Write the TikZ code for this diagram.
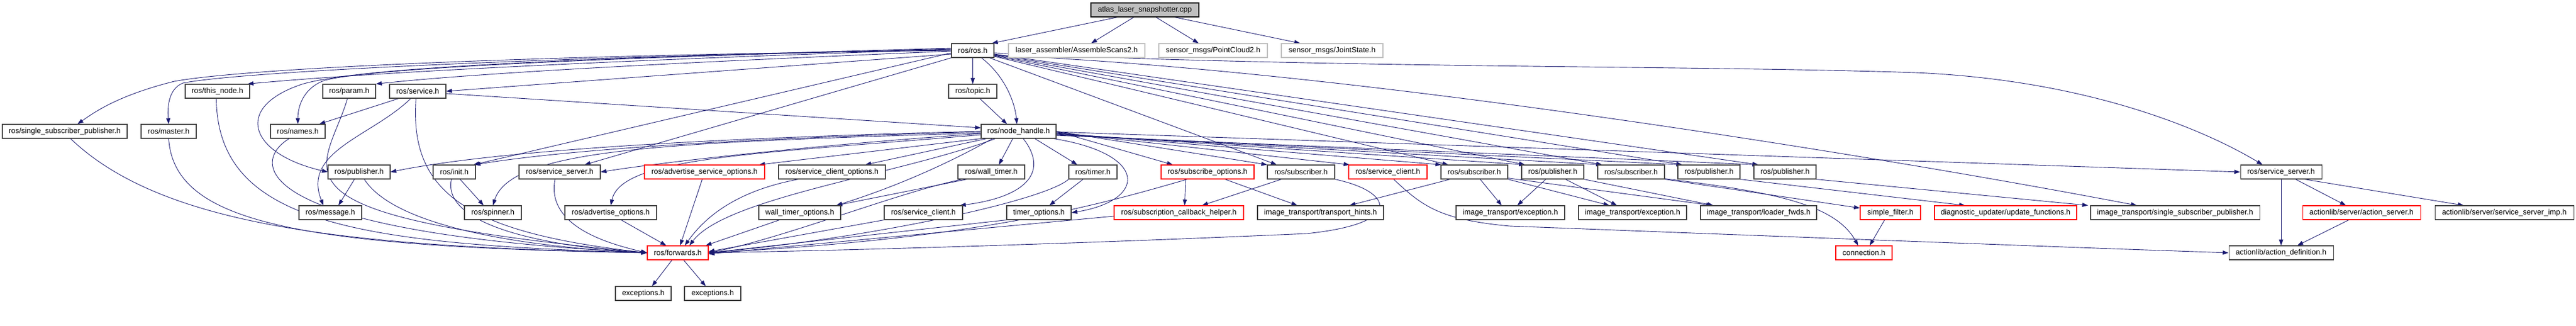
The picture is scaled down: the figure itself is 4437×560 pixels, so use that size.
\documentclass[tikz,border=0pt]{standalone}
\usepackage{fontspec}
\setmainfont{Liberation Sans}
\usetikzlibrary{arrows.meta,backgrounds}
\definecolor{edgeblue}{RGB}{25,25,112}
\definecolor{bdgray}{RGB}{64,64,64}
\definecolor{extgray}{RGB}{191,191,191}
\definecolor{bdred}{RGB}{255,0,0}
\tikzset{
  hbox/.style={draw=bdgray, fill=white, line width=1.1pt, inner sep=0pt, minimum height=24pt, font=\fontsize{13}{15}\selectfont},
  redhbox/.style={hbox, draw=bdred},
  exthbox/.style={hbox, draw=extgray},
  roothbox/.style={hbox, draw=black, fill=extgray},
  dep/.style={draw=edgeblue, line width=0.9pt, -{Triangle[length=10pt,width=7pt]}},
}
\begin{document}
\begin{tikzpicture}[x=1pt,y=1pt]
\useasboundingbox (0,0) rectangle (4437,-560);
% row 0
\node[roothbox, minimum width=186] (root) at (1972,-17) {atlas\_laser\_snapshotter.cpp};
% row 1
\node[hbox, minimum width=73] (ros) at (1675.5,-87) {ros/ros.h};
\node[exthbox, minimum width=235] (asm) at (1854.5,-87) {laser\_assembler/AssembleScans2.h};
\node[exthbox, minimum width=187] (pc2) at (2089.5,-87) {sensor\_msgs/PointCloud2.h};
\node[exthbox, minimum width=175] (js) at (2294.5,-87) {sensor\_msgs/JointState.h};
% row 2
\node[hbox, minimum width=111] (thisnode) at (374.5,-157) {ros/this\_node.h};
\node[hbox, minimum width=91] (param) at (601.5,-157) {ros/param.h};
\node[hbox, minimum width=97] (service) at (719.5,-157) {ros/service.h};
\node[hbox, minimum width=83] (topic) at (1675.5,-157) {ros/topic.h};
% row 3
\node[hbox, minimum width=215] (ssp) at (111.5,-226) {ros/single\_subscriber\_publisher.h};
\node[hbox, minimum width=95] (master) at (290.5,-226) {ros/master.h};
\node[hbox, minimum width=94] (names) at (513,-226) {ros/names.h};
\node[hbox, minimum width=129] (nh) at (1754.5,-226) {ros/node\_handle.h};
% row 4
\node[hbox, minimum width=107] (pubA) at (618.5,-296) {ros/publisher.h};
\node[hbox, minimum width=73] (init) at (782.5,-296) {ros/init.h};
\node[hbox, minimum width=140] (ssA) at (964,-296) {ros/service\_server.h};
\node[redhbox, minimum width=207] (aso) at (1213.5,-296) {ros/advertise\_service\_options.h};
\node[hbox, minimum width=184] (sco) at (1433,-296) {ros/service\_client\_options.h};
\node[hbox, minimum width=115] (wt) at (1707.5,-296) {ros/wall\_timer.h};
\node[hbox, minimum width=83] (timer) at (1882.5,-296) {ros/timer.h};
\node[redhbox, minimum width=160] (so) at (2080,-296) {ros/subscribe\_options.h};
\node[hbox, minimum width=116] (subA) at (2241,-296) {ros/subscriber.h};
\node[redhbox, minimum width=135] (scR) at (2390.5,-296) {ros/service\_client.h};
\node[hbox, minimum width=115] (subB) at (2539.5,-296) {ros/subscriber.h};
\node[hbox, minimum width=107] (pubB) at (2674.5,-296) {ros/publisher.h};
\node[hbox, minimum width=115] (subC) at (2809.5,-296) {ros/subscriber.h};
\node[hbox, minimum width=107] (pubC) at (2943.5,-296) {ros/publisher.h};
\node[hbox, minimum width=107] (pubD) at (3074.5,-296) {ros/publisher.h};
\node[hbox, minimum width=140] (ssB) at (3929,-296) {ros/service\_server.h};
% row 5
\node[hbox, minimum width=108] (msg) at (569,-366) {ros/message.h};
\node[hbox, minimum width=98] (spin) at (849,-366) {ros/spinner.h};
\node[hbox, minimum width=158] (ao) at (1052,-366) {ros/advertise\_options.h};
\node[hbox, minimum width=141] (wto) at (1377.5,-366) {wall\_timer\_options.h};
\node[hbox, minimum width=135] (sc) at (1590.5,-366) {ros/service\_client.h};
\node[hbox, minimum width=111] (to) at (1789.5,-366) {timer\_options.h};
\node[redhbox, minimum width=223] (sch) at (2030.5,-366) {ros/subscription\_callback\_helper.h};
\node[hbox, minimum width=217] (th) at (2274.5,-366) {image\_transport/transport\_hints.h};
\node[hbox, minimum width=187] (exA) at (2601.5,-366) {image\_transport/exception.h};
\node[hbox, minimum width=186] (exB) at (2812,-366) {image\_transport/exception.h};
\node[hbox, minimum width=200] (lf) at (3029,-366) {image\_transport/loader\_fwds.h};
\node[redhbox, minimum width=104] (sf) at (3256,-366) {simple\_filter.h};
\node[redhbox, minimum width=245] (du) at (3454.5,-366) {diagnostic\_updater/update\_functions.h};
\node[hbox, minimum width=291] (itssp) at (3746.5,-366) {image\_transport/single\_subscriber\_publisher.h};
\node[redhbox, minimum width=203] (as) at (4067.5,-366) {actionlib/server/action\_server.h};
\node[hbox, minimum width=239] (ssi) at (4313.5,-366) {actionlib/server/service\_server\_imp.h};
% row 6
\node[redhbox, minimum width=105] (fw) at (1167.5,-435) {ros/forwards.h};
\node[redhbox, minimum width=97] (conn) at (3210.5,-435) {connection.h};
\node[hbox, minimum width=180] (ad) at (3929,-435) {actionlib/action\_definition.h};
% row 7
\node[hbox, minimum width=96] (excA) at (1108,-505) {exceptions.h};
\node[hbox, minimum width=97] (excB) at (1227.5,-505) {exceptions.h};

\begin{pgfonlayer}{background}
% root
\draw[dep] ([xshift=-47]root.south) -- ([xshift=-4]ros.north east);
\draw[dep] ([xshift=-19]root.south) -- ([xshift=25]asm.north);
\draw[dep] ([xshift=19]root.south) -- ([xshift=-25]pc2.north);
\draw[dep] ([xshift=51]root.south) -- ([xshift=-55]js.north);
% ros.h
\draw[dep] (ros.west) .. controls (900,-95) and (420,-118) .. (300,-140) .. controls (200,-165) and (160,-195) .. ([xshift=22]ssp.north);
\draw[dep] ([yshift=1]ros.west) .. controls (900,-98) and (400,-125) .. (315,-143) .. controls (292,-152) and (288,-180) .. (master.north);
\draw[dep] ([yshift=2]ros.west) .. controls (1000,-105) and (600,-128) .. ([xshift=-4]thisnode.north east);
\draw[dep] ([yshift=3]ros.west) .. controls (1000,-100) and (640,-118) .. (560,-138) .. controls (525,-150) and (513,-180) .. (names.north);
\draw[dep] ([yshift=4]ros.west) .. controls (1000,-100) and (620,-115) .. (520,-145) .. controls (400,-185) and (430,-265) .. (pubA.west);
\draw[dep] ([yshift=-1]ros.west) .. controls (1100,-110) and (800,-128) .. (param.north east);
\draw[dep] ([yshift=-6]ros.west) -- (service.east);
\draw[dep] ([yshift=-4]ros.west) -- ([xshift=-4]init.north east);
\draw[dep] (ros.south west) -- ([xshift=43]ssA.north);
\draw[dep] (ros) -- (topic);
\draw[dep] ([xshift=15]ros.south) .. controls (1730,-130) and (1748,-175) .. ([xshift=-3]nh.north);
\draw[dep] ([xshift=-8]ros.south east) -- ([xshift=-42]subA.north);
\draw[dep] ([yshift=-10]ros.east) -- ([xshift=-45]subB.north);
\draw[dep] ([yshift=-9]ros.east) -- ([xshift=-48]pubB.north);
\draw[dep] ([yshift=-8]ros.east) -- ([xshift=-50]subC.north);
\draw[dep] ([yshift=-7]ros.east) -- ([xshift=-46]pubC.north);
\draw[dep] ([yshift=-6]ros.east) -- ([xshift=-46]pubD.north);
\draw[dep] ([yshift=-8]ros.east) .. controls (2300,-118) and (3200,-262) .. ([xshift=-66]itssp.north);
\draw[dep] ([yshift=-4]ros.east) .. controls (2300,-118) and (2900,-112) .. (3300,-125) .. controls (3600,-138) and (3800,-225) .. ([xshift=-32]ssB.north);
% topic, service
\draw[dep] ([xshift=12]topic.south) -- ([xshift=-20]nh.north);
\draw[dep] ([yshift=-4]service.east) -- ([yshift=6]nh.west);
\draw[dep] ([xshift=-33]service.south) -- ([xshift=37]names.north);
\draw[dep] ([xshift=-12]service.south) .. controls (640,-235) and (520,-260) .. ([xshift=-12]msg.north);
\draw[dep] ([xshift=-3]service.south) .. controls (705,-330) and (800,-400) .. (fw.west);
% node_handle.h left
\draw[dep] (nh.west) .. controls (1200,-238) and (850,-260) .. (pubA.east);
\draw[dep] ([yshift=-1]nh.west) .. controls (1200,-240) and (950,-262) .. ([xshift=-2]init.north east);
\draw[dep] ([yshift=-3]nh.west) .. controls (1150,-245) and (880,-255) .. (spin.north);
\draw[dep] ([yshift=-4]nh.west) .. controls (1400,-250) and (1150,-278) .. (ssA.east);
\draw[dep] ([yshift=-6]nh.west) .. controls (1300,-265) and (1070,-270) .. (ao.north);
\draw[dep] (nh.south west) -- ([xshift=-10]aso.north east);
\draw[dep] ([xshift=10]nh.south west) -- ([xshift=-35]sco.north east);
\draw[dep] ([xshift=20]nh.south west) .. controls (1600,-300) and (1500,-335) .. ([xshift=-8]wto.north east);
\draw[dep] ([xshift=25]nh.south west) .. controls (1550,-300) and (1250,-340) .. ([xshift=20]fw.north);
\draw[dep] ([xshift=-10]nh.south) -- ([xshift=13]wt.north);
\draw[dep] ([xshift=8]nh.south) .. controls (1810,-300) and (1760,-340) .. ([xshift=-5]sc.north east);
\draw[dep] ([xshift=28]nh.south) -- ([xshift=-27]timer.north);
\draw[dep] ([xshift=-5]nh.south east) .. controls (1980,-265) and (1975,-345) .. (to.east);
% node_handle.h right
\draw[dep] (nh.east) -- ([xshift=-60]so.north);
\draw[dep] (nh.east) -- (subA.north west);
\draw[dep] ([yshift=-2]nh.east) -- ([xshift=2]scR.north west);
\draw[dep] ([yshift=-3]nh.east) -- ([xshift=-57]subB.north);
\draw[dep] ([yshift=-4]nh.east) -- ([xshift=-48]pubB.north);
\draw[dep] ([yshift=-5]nh.east) -- ([xshift=-50]subC.north);
\draw[dep] ([yshift=-6]nh.east) -- ([xshift=-46]pubC.north);
\draw[dep] ([yshift=-7]nh.east) -- ([xshift=-46]pubD.north);
\draw[dep] ([yshift=-1]nh.east) -- (ssB.west);
% into forwards.h
\draw[dep] ([xshift=10]ssp.south) .. controls (280,-390) and (600,-425) .. (fw.west);
\draw[dep] (master.south) .. controls (300,-380) and (500,-425) .. (fw.west);
\draw[dep] ([xshift=-2]thisnode.south) .. controls (375,-380) and (600,-420) .. (fw.west);
\draw[dep] ([xshift=-15]names.south) .. controls (430,-280) and (430,-400) .. (fw.west);
\draw[dep] ([xshift=-3]param.south) .. controls (560,-300) and (430,-370) .. (fw.west);
\draw[dep] ([xshift=9]pubA.south) .. controls (680,-390) and (900,-425) .. (fw.west);
\draw[dep] ([xshift=-5]init.south) .. controls (760,-390) and (950,-425) .. (fw.west);
\draw[dep] ([xshift=-8]ssA.south) .. controls (940,-390) and (1050,-420) .. (fw.west);
\draw[dep] ([xshift=18]ao.south) -- ([xshift=-20]fw.north);
\draw[dep] ([xshift=-4]aso.south) -- ([xshift=4]fw.north);
\draw[dep] ([xshift=-58]sco.south) .. controls (1260,-330) and (1210,-380) .. ([xshift=12]fw.north);
\draw[dep] ([xshift=-35]wto.south) -- ([xshift=-5]fw.north east);
\draw[dep] ([xshift=-42]wt.south) -- ([xshift=-8]wto.north east);
\draw[dep] ([xshift=-50]wt.south) .. controls (1550,-330) and (1350,-410) .. (fw.east);
\draw[dep] (sc.south west) -- ([yshift=2]fw.east);
\draw[dep] (to.south west) -- (fw.east);
\draw[dep] ([xshift=-17]timer.south) -- ([xshift=18]to.north);
\draw[dep] (timer.south west) .. controls (1800,-345) and (1500,-410) .. (fw.east);
\draw[dep] ([xshift=-38]so.south) -- ([xshift=10]sch.north);
\draw[dep] ([xshift=-35]so.south) .. controls (1900,-350) and (1700,-410) .. (fw.east);
\draw[dep] ([xshift=30]so.south) -- ([xshift=-40]th.north);
\draw[dep] ([xshift=-34]subA.south) -- ([xshift=40]sch.north);
\draw[dep] (subA.south east) .. controls (2400,-330) and (2420,-385) .. (2250,-402) .. controls (1800,-422) and (1400,-432) .. (fw.east);
\draw[dep] ([yshift=-6]sch.west) -- ([yshift=-2]fw.east);
% right part
\draw[dep] ([xshift=10]scR.south) .. controls (2450,-355) and (2480,-378) .. (2600,-389) .. controls (3200,-412) and (3600,-427) .. (ad.west);
\draw[dep] ([xshift=-42]subB.south) -- ([xshift=50]th.north);
\draw[dep] ([xshift=10]subB.south) -- ([xshift=-15]exA.north);
\draw[dep] (subB.south east) -- ([xshift=-40]exB.north);
\draw[dep] ([yshift=2]subB.south east) -- ([xshift=-80]lf.north);
\draw[dep] ([xshift=-12]pubB.south) -- ([xshift=12]exA.north);
\draw[dep] ([xshift=22]pubB.south) -- ([xshift=-27]exB.north);
\draw[dep] (pubB.south east) -- ([xshift=-78]lf.north);
\draw[dep] (subC.south east) -- ([yshift=8]sf.west);
\draw[dep] ([yshift=1]subC.south east) .. controls (3050,-330) and (3160,-350) .. ([xshift=-10]conn.north);
\draw[dep] (pubC.south east) -- ([xshift=-70]du.north);
\draw[dep] (pubD.south east) -- ([xshift=-150]itssp.north);
\draw[dep] ([xshift=-10]sf.south) -- ([xshift=10]conn.north);
\draw[dep] (ssB) -- (ad);
\draw[dep] ([xshift=25]ssB.south) -- ([xshift=-27]as.north);
\draw[dep] ([xshift=-30]ssB.south east) -- ([xshift=-70]ssi.north);
\draw[dep] ([xshift=-22]as.south) -- ([xshift=28]ad.north);
\draw[dep] ([xshift=-10]fw.south) -- ([xshift=15]excA.north);
\draw[dep] ([xshift=10]fw.south) -- ([xshift=-12]excB.north);
\draw[dep] ([xshift=10]init.south) -- ([xshift=-16]spin.north);
\draw[dep] ([xshift=-8]pubA.south) -- ([xshift=14]msg.north);
\end{pgfonlayer}
\end{tikzpicture}
\end{document}
